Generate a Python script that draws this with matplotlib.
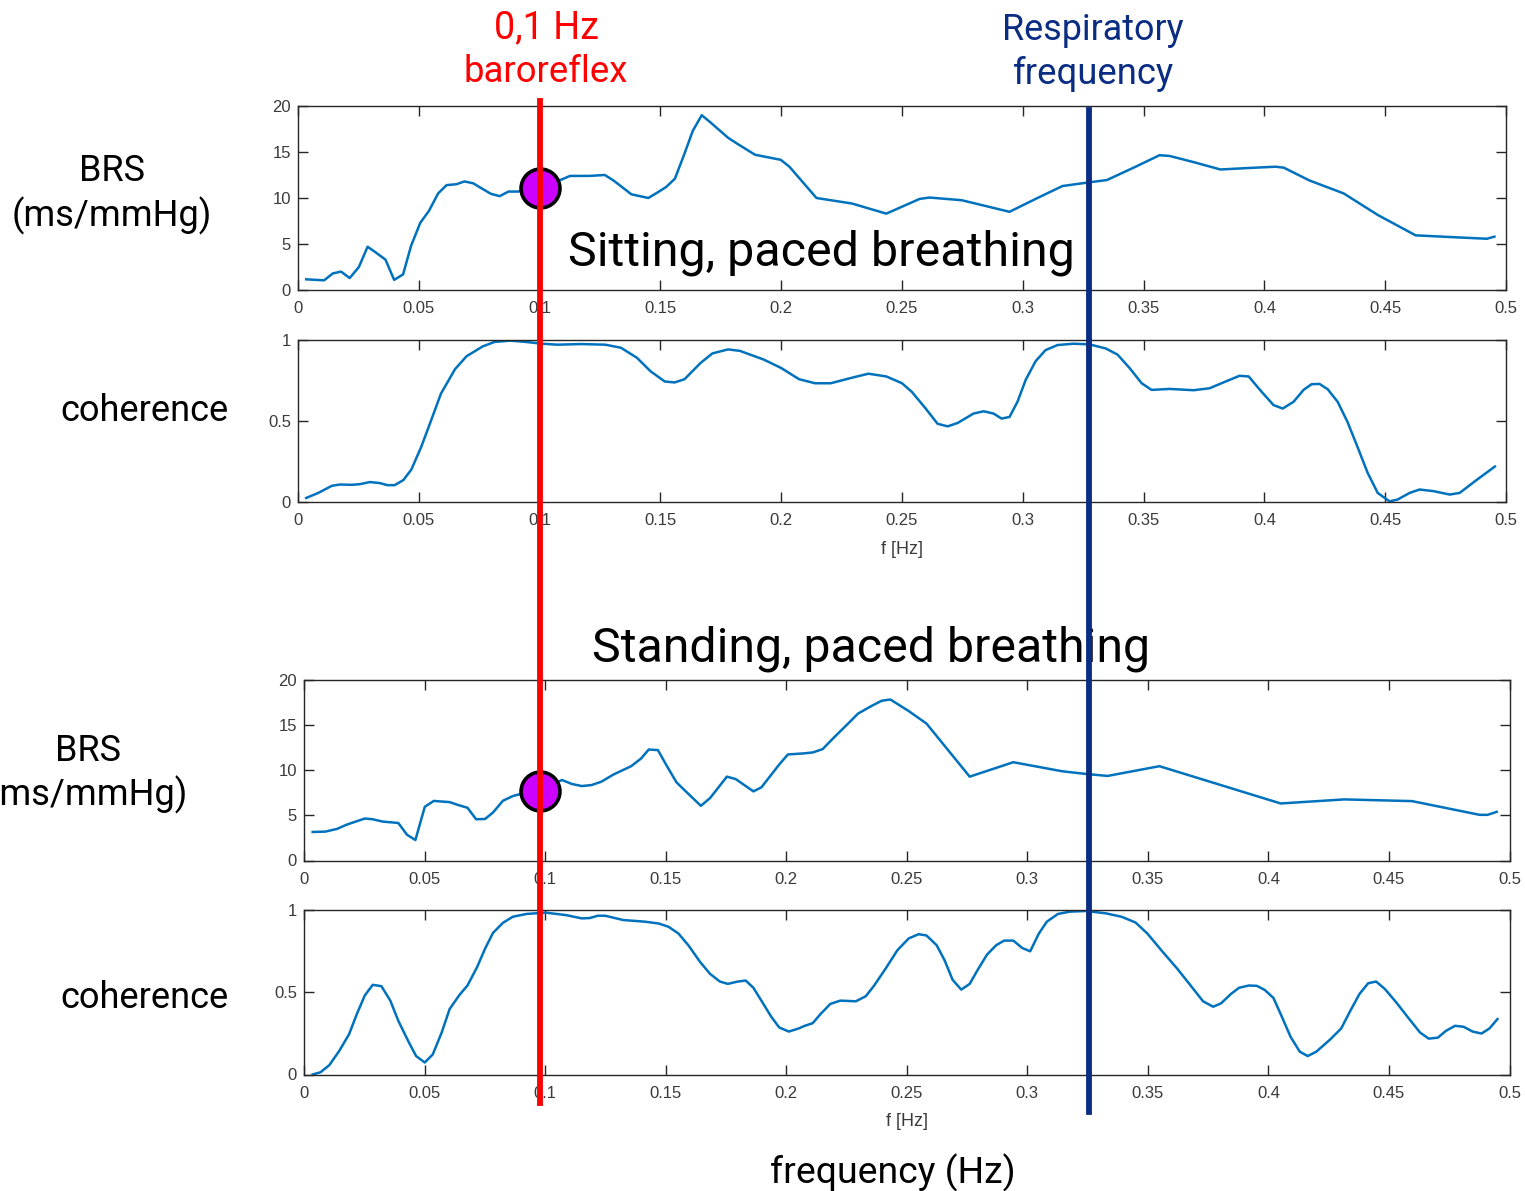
import matplotlib
matplotlib.use("Agg")
import matplotlib.pyplot as plt
import matplotlib.transforms as mtransforms
from matplotlib.lines import Line2D

# ---------------- data ----------------
freq_ticks = [0, 0.05, 0.1, 0.15, 0.2, 0.25, 0.3, 0.35, 0.4, 0.45, 0.5]
freq_tick_labels = ["0", "0.05", "0.1", "0.15", "0.2", "0.25", "0.3", "0.35", "0.4", "0.45", "0.5"]
brs_ticks = [0, 5, 10, 15, 20]
coh_ticks = [0, 0.5, 1]
coh_tick_labels = ["0", "0.5", "1"]

# Sitting, paced breathing: baroreflex sensitivity (ms/mmHg)
sit_brs_f = [0.0034, 0.0108, 0.0144, 0.0178, 0.0214, 0.0252, 0.0288, 0.0321, 0.0362, 0.0398,
             0.0435, 0.0468, 0.0506, 0.0542, 0.058, 0.0615, 0.0656, 0.0689, 0.0725, 0.0763,
             0.0799, 0.0835, 0.0871, 0.091, 0.1, 0.109, 0.1126, 0.1205, 0.127, 0.1306,
             0.138, 0.145, 0.1488, 0.1524, 0.156, 0.1598, 0.1634, 0.1671, 0.1708, 0.1745,
             0.178, 0.1818, 0.1892, 0.1998, 0.2034, 0.2146, 0.2293, 0.2435, 0.2573, 0.2614,
             0.2747, 0.2945, 0.3053, 0.3164, 0.3273, 0.3348, 0.3459, 0.3566, 0.3608, 0.3707,
             0.3818, 0.3934, 0.4046, 0.408, 0.4187, 0.4328, 0.4469, 0.4626, 0.4767, 0.4921,
             0.4952]
sit_brs = [1.16, 1.05, 1.8, 2.0, 1.3, 2.5, 4.7, 4.1, 3.3, 1.1,
           1.7, 4.8, 7.3, 8.6, 10.5, 11.4, 11.5, 11.8, 11.6, 11.0,
           10.45, 10.2, 10.7, 10.7, 11.1, 12.0, 12.4, 12.4, 12.5, 11.9,
           10.4, 10.0, 10.6, 11.2, 12.1, 14.7, 17.3, 19.0, 18.2, 17.35,
           16.55, 15.9, 14.7, 14.15, 13.4, 10.0, 9.4, 8.3, 9.9, 10.05,
           9.76, 8.5, 9.9, 11.3, 11.7, 11.95, 13.3, 14.65, 14.57, 13.9,
           13.1, 13.26, 13.4, 13.3, 11.9, 10.5, 8.16, 5.94, 5.76, 5.57,
           5.8]

# Sitting, paced breathing: coherence
sit_coh_f = [0.0034, 0.0084, 0.014, 0.0174, 0.0223, 0.0256, 0.0297, 0.0338, 0.037, 0.04,
             0.0436, 0.0469, 0.051, 0.0551, 0.0592, 0.065, 0.0698, 0.0764, 0.0813, 0.0879,
             0.0944, 0.101, 0.1075, 0.1173, 0.1272, 0.1337, 0.1403, 0.146, 0.1518, 0.1559,
             0.16, 0.1666, 0.1715, 0.178, 0.1829, 0.1928, 0.2, 0.2074, 0.214, 0.2205,
             0.2287, 0.2361, 0.2435, 0.25, 0.254, 0.2598, 0.2647, 0.2689, 0.273, 0.2796,
             0.2838, 0.2879, 0.2912, 0.2945, 0.2978, 0.3012, 0.3053, 0.3094, 0.3144, 0.321,
             0.3276, 0.3343, 0.3392, 0.3442, 0.3492, 0.3533, 0.3608, 0.3707, 0.3773, 0.384,
             0.3897, 0.3935, 0.3988, 0.4038, 0.4076, 0.4121, 0.4162, 0.4195, 0.4228, 0.4262,
             0.4303, 0.4344, 0.4386, 0.4427, 0.4469, 0.4518, 0.4551, 0.4601, 0.4642, 0.47,
             0.4767, 0.4808, 0.4882, 0.4954]
sit_coh = [0.025, 0.056, 0.10, 0.108, 0.106, 0.11, 0.123, 0.117, 0.104, 0.104,
           0.135, 0.20, 0.34, 0.504, 0.67, 0.82, 0.90, 0.96, 0.988, 0.996,
           0.988, 0.977, 0.971, 0.975, 0.971, 0.952, 0.89, 0.806, 0.744, 0.738,
           0.758, 0.858, 0.917, 0.942, 0.933, 0.879, 0.827, 0.758, 0.733, 0.733,
           0.765, 0.792, 0.775, 0.733, 0.681, 0.577, 0.483, 0.467, 0.4875, 0.546,
           0.56, 0.546, 0.515, 0.525, 0.619, 0.754, 0.869, 0.9375, 0.969, 0.977,
           0.973, 0.948, 0.91, 0.827, 0.733, 0.692, 0.698, 0.69, 0.702, 0.744,
           0.779, 0.775, 0.681, 0.598, 0.577, 0.619, 0.692, 0.727, 0.729, 0.696,
           0.619, 0.494, 0.3375, 0.181, 0.056, 0.004, 0.015, 0.056, 0.077, 0.067,
           0.046, 0.056, 0.14, 0.219]

# Standing, paced breathing: baroreflex sensitivity (ms/mmHg)
stand_brs_f = [0.0036, 0.0088, 0.0137, 0.0178, 0.0252, 0.0285, 0.0326, 0.0391, 0.0427, 0.0462,
               0.0501, 0.0538, 0.0604, 0.0637, 0.0678, 0.0714, 0.0751, 0.0784, 0.0825, 0.0866,
               0.0907, 0.0975, 0.107, 0.1111, 0.1152, 0.1193, 0.1234, 0.1283, 0.1357, 0.1398,
               0.143, 0.1468, 0.1504, 0.1545, 0.1578, 0.1646, 0.1684, 0.1754, 0.179, 0.1864,
               0.1897, 0.197, 0.2007, 0.2069, 0.211, 0.2151, 0.22, 0.2265, 0.2298, 0.2355,
               0.2396, 0.2432, 0.2507, 0.2582, 0.2761, 0.2942, 0.3144, 0.3243, 0.3333, 0.3548,
               0.4051, 0.4315, 0.4596, 0.4876, 0.4909, 0.4947]
stand_brs = [3.16, 3.2, 3.5, 3.98, 4.65, 4.57, 4.31, 4.16, 2.86, 2.27,
             5.95, 6.6, 6.47, 6.17, 5.84, 4.57, 4.6, 5.32, 6.62, 7.14,
             7.43, 7.73, 8.92, 8.48, 8.25, 8.36, 8.74, 9.52, 10.45, 11.3,
             12.3, 12.23, 10.52, 8.66, 7.8, 6.06, 6.91, 9.29, 9.03, 7.66,
             8.1, 10.6, 11.75, 11.86, 11.97, 12.34, 13.68, 15.39, 16.28, 17.14,
             17.7, 17.84, 16.58, 15.17, 9.29, 10.89, 9.89, 9.59, 9.37, 10.45,
             6.32, 6.77, 6.58, 5.06, 5.06, 5.39]

# Standing, paced breathing: coherence
stand_coh_f = [0.0036, 0.0069, 0.0105, 0.0146, 0.0187, 0.0219, 0.0252, 0.0285, 0.0321, 0.0358,
               0.0391, 0.0432, 0.0465, 0.0501, 0.0534, 0.0571, 0.0604, 0.0645, 0.0678, 0.0718,
               0.0751, 0.0784, 0.0825, 0.0866, 0.0923, 0.1002, 0.1087, 0.1152, 0.1185, 0.1218,
               0.125, 0.1324, 0.1414, 0.1471, 0.1512, 0.1553, 0.1594, 0.1643, 0.1684, 0.1725,
               0.1758, 0.1799, 0.1832, 0.1864, 0.1897, 0.1938, 0.1971, 0.2011, 0.2052, 0.2077,
               0.211, 0.2142, 0.2183, 0.2224, 0.2289, 0.233, 0.2363, 0.2412, 0.2461, 0.2508,
               0.2549, 0.2582, 0.2624, 0.2657, 0.269, 0.2726, 0.2761, 0.2797, 0.2833, 0.2871,
               0.2904, 0.2942, 0.2979, 0.3012, 0.3048, 0.3081, 0.3127, 0.3177, 0.3243, 0.3325,
               0.3391, 0.3449, 0.3498, 0.3556, 0.3622, 0.3672, 0.3729, 0.3771, 0.3804, 0.3845,
               0.3878, 0.3919, 0.3952, 0.3985, 0.4021, 0.4054, 0.4092, 0.413, 0.4163, 0.4199,
               0.4257, 0.4302, 0.434, 0.4378, 0.4414, 0.4447, 0.4483, 0.453, 0.4579, 0.4629,
               0.4665, 0.4703, 0.4736, 0.4774, 0.481, 0.4847, 0.4884, 0.4917, 0.495]
stand_coh = [0.0, 0.014, 0.057, 0.143, 0.245, 0.367, 0.48, 0.545, 0.537, 0.449,
             0.327, 0.204, 0.112, 0.073, 0.122, 0.255, 0.398, 0.484, 0.541, 0.653,
             0.765, 0.861, 0.922, 0.959, 0.976, 0.984, 0.969, 0.949, 0.951, 0.965,
             0.965, 0.939, 0.929, 0.918, 0.898, 0.857, 0.786, 0.684, 0.612, 0.565,
             0.551, 0.565, 0.571, 0.527, 0.449, 0.351, 0.286, 0.261, 0.28, 0.296,
             0.312, 0.367, 0.429, 0.449, 0.445, 0.476, 0.537, 0.643, 0.755, 0.827,
             0.853, 0.845, 0.786, 0.694, 0.576, 0.516, 0.551, 0.643, 0.729, 0.786,
             0.814, 0.814, 0.769, 0.749, 0.857, 0.929, 0.976, 0.99, 0.994, 0.98,
             0.959, 0.924, 0.857, 0.755, 0.643, 0.551, 0.445, 0.412, 0.433, 0.49,
             0.527, 0.541, 0.539, 0.514, 0.465, 0.357, 0.229, 0.139, 0.112, 0.139,
             0.214, 0.28, 0.388, 0.49, 0.555, 0.565, 0.52, 0.439, 0.347, 0.255,
             0.218, 0.224, 0.265, 0.296, 0.29, 0.261, 0.249, 0.28, 0.337]

baroreflex_f = 0.1          # 0.1 Hz baroreflex band
respiratory_f = 0.3275      # paced respiratory frequency
sit_brs_at_baro = 11.1
stand_brs_at_baro = 7.73

# ---------------- styling ----------------
W, H = 1525, 1191
LINE_BLUE = "#0072BD"
AX_GRAY = "#262626"
TICK_GRAY = "#3a3a3a"
RED = "#FF0000"
NAVY = "#0a2d83"
MAGENTA = "#CC00FF"
TEXT_FONT = ["Roboto", "DejaVu Sans"]
TICK_FONT = ["Liberation Sans", "DejaVu Sans"]

fig = plt.figure(figsize=(W / 100, H / 100), dpi=100)
fig.patch.set_facecolor("white")


def px_axes(left, top, right, bottom):
    return fig.add_axes([left / W, 1 - bottom / H, (right - left) / W, (bottom - top) / H])


def style_axes(ax, yticks, ylabels, ylim, xlabel=None):
    ax.set_xlim(0, 0.5)
    ax.set_ylim(*ylim)
    ax.set_xticks(freq_ticks)
    ax.set_xticklabels(freq_tick_labels, fontfamily=TICK_FONT)
    ax.set_yticks(yticks)
    ax.set_yticklabels(ylabels, fontfamily=TICK_FONT)
    ax.tick_params(direction="in", top=True, right=True, length=7, width=1.0,
                   color=AX_GRAY, labelcolor=TICK_GRAY, labelsize=12)
    ax.tick_params(axis="x", pad=8)
    ax.tick_params(axis="y", pad=5)
    for sp in ax.spines.values():
        sp.set_color(AX_GRAY)
        sp.set_linewidth(1.0)
    if xlabel:
        ax.set_xlabel(xlabel, fontsize=13, color=TICK_GRAY, fontfamily=TICK_FONT, labelpad=9)


ax1 = px_axes(298, 106, 1506, 290)
ax2 = px_axes(298, 340, 1506, 502)
ax3 = px_axes(304, 680, 1509.5, 860.5)
ax4 = px_axes(304, 910, 1509.5, 1074.5)

ax1.plot(sit_brs_f, sit_brs, color=LINE_BLUE, lw=1.8)
ax2.plot(sit_coh_f, sit_coh, color=LINE_BLUE, lw=1.8)
ax3.plot(stand_brs_f, stand_brs, color=LINE_BLUE, lw=1.8)
ax4.plot(stand_coh_f, stand_coh, color=LINE_BLUE, lw=1.8)

style_axes(ax1, brs_ticks, [str(v) for v in brs_ticks], (0, 20))
style_axes(ax2, coh_ticks, coh_tick_labels, (0, 1), xlabel="f [Hz]")
style_axes(ax3, brs_ticks, [str(v) for v in brs_ticks], (0, 20))
style_axes(ax4, coh_ticks, coh_tick_labels, (0, 1), xlabel="f [Hz]")

# ---------------- annotation text ----------------
renderer = fig.canvas.get_renderer()


def fitted_text(xc, yc, s, width_px, **kw):
    t = fig.text(xc / W, 1 - yc / H, s, ha="center", va="center", fontsize=20,
                 fontfamily=TEXT_FONT, **kw)
    w = t.get_window_extent(renderer).width
    t.set_fontsize(20 * width_px / w)
    return t


fitted_text(546, 28, "0,1 Hz", 105, color=RED)
fitted_text(546, 72, "baroreflex", 164, color=RED)
fitted_text(1093, 30, "Respiratory", 181, color=NAVY)
fitted_text(1093, 74, "frequency", 161, color=NAVY)

fitted_text(112, 171, "BRS", 66, color="black")
fitted_text(112, 216, "(ms/mmHg)", 200, color="black")
fitted_text(144, 411, "coherence", 168, color="black")
fitted_text(88, 751, "BRS", 66, color="black")
fitted_text(88, 795, "(ms/mmHg)", 200, color="black")
fitted_text(144, 998, "coherence", 168, color="black")

fitted_text(821, 253, "Sitting, paced breathing", 505, color="black")
fitted_text(871, 649, "Standing, paced breathing", 557, color="black")
fitted_text(893, 1173, "frequency (Hz)", 245, color="black")

# ---------------- vertical guide lines spanning all panels ----------------
blend1 = mtransforms.blended_transform_factory(ax1.transData, fig.transFigure)
fig.lines.append(Line2D([baroreflex_f, baroreflex_f], [1 - 101 / H, 1 - 1103 / H],
                        transform=blend1, color=RED, lw=4.2, zorder=10))
fig.lines.append(Line2D([respiratory_f, respiratory_f], [1 - 110 / H, 1 - 1112 / H],
                        transform=blend1, color=NAVY, lw=4.2, zorder=10))

# baroreflex markers sitting on the red line
ax1.plot([baroreflex_f], [sit_brs_at_baro], "o", ms=28, mfc=MAGENTA, mec="black",
         mew=2.6, clip_on=False, zorder=20)
x_fig = blend1.transform((baroreflex_f, 0))[0]
x_ax3 = ax3.transData.inverted().transform((x_fig, 0))[0]
ax3.plot([x_ax3], [stand_brs_at_baro], "o", ms=28, mfc=MAGENTA, mec="black",
         mew=2.6, clip_on=False, zorder=20)

fig.savefig("out.png", dpi=100, facecolor="white")
